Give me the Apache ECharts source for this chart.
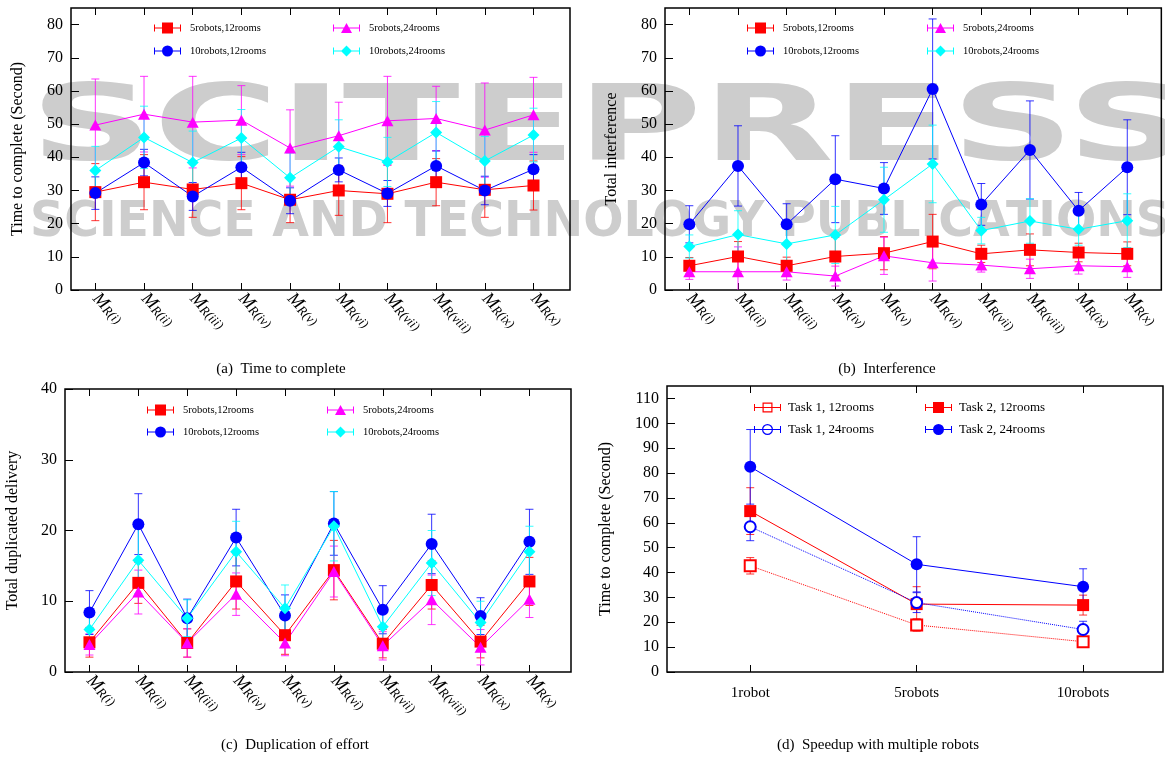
<!DOCTYPE html>
<html>
<head>
<meta charset="utf-8">
<script src="https://cdn.jsdelivr.net/npm/echarts@6/dist/echarts.min.js"></script>
<style>
  html, body { margin: 0; background: #fff; }
  #chart { width: 1165px; height: 764px; }
</style>
</head>
<body>
<div id="chart"></div>
<script>
// ---- data ----
const xIdx = [1, 2, 3, 4, 5, 6, 7, 8, 9, 10];
const romans = ['i', 'ii', 'iii', 'iv', 'v', 'vi', 'vii', 'viii', 'ix', 'x'];
const robotLabels = ['1robot', '5robots', '10robots'];
const robotIdx = [1, 2, 3];
const yTicksTime = [0, 10, 20, 30, 40, 50, 60, 70, 80];
const yTicksDup = [0, 10, 20, 30, 40];
const yTicksSpeed = [0, 10, 20, 30, 40, 50, 60, 70, 80, 90, 100, 110];

// (a) time to complete
const timeR5Rm12 = [29.5, 32.5, 30.3, 32.2, 27.2, 30.0, 29.0, 32.5, 30.2, 31.5];
const timeR5Rm12Err = [8.6, 8.3, 8.4, 8.0, 6.9, 7.5, 8.7, 7.1, 8.3, 7.4];
const timeR5Rm24 = [49.7, 53.0, 50.6, 51.2, 42.8, 46.5, 51.0, 51.7, 48.2, 52.8];
const timeR5Rm24Err = [13.9, 11.4, 13.8, 10.4, 11.5, 10.1, 13.4, 9.7, 14.2, 11.3];
const timeR10Rm12 = [29.2, 38.4, 28.2, 37.0, 26.9, 36.2, 29.1, 37.4, 30.0, 36.4];
const timeR10Rm12Err = [4.9, 4.0, 4.2, 4.5, 3.9, 3.6, 3.9, 4.5, 4.3, 4.4];
const timeR10Rm24 = [36.0, 46.0, 38.4, 45.8, 33.8, 43.2, 38.6, 47.5, 38.9, 46.7];
const timeR10Rm24Err = [7.3, 9.4, 9.5, 8.6, 7.5, 8.1, 7.4, 9.3, 7.4, 8.1];

// (b) interference
const intfR5Rm12 = [7.3, 10.1, 7.3, 10.1, 11.1, 14.6, 10.9, 12.1, 11.3, 10.9];
const intfR5Rm12Err = [2.5, 4.5, 2.6, 5.8, 5.0, 8.2, 2.6, 4.8, 2.8, 3.6];
const intfR5Rm24 = [5.5, 5.5, 5.5, 4.2, 10.3, 8.2, 7.5, 6.4, 7.3, 7.0];
const intfR5Rm24Err = [2.3, 7.5, 2.5, 3.0, 5.6, 5.5, 2.1, 2.9, 2.5, 3.2];
const intfR10Rm12 = [19.8, 37.4, 19.8, 33.4, 30.6, 60.6, 25.8, 42.2, 23.9, 37.0];
const intfR10Rm12Err = [5.6, 12.1, 6.2, 13.1, 7.8, 21.1, 6.3, 14.8, 5.5, 14.3];
const intfR10Rm24 = [13.1, 16.7, 13.9, 16.6, 27.2, 38.0, 17.9, 20.8, 18.3, 20.9];
const intfR10Rm24Err = [3.5, 7.2, 5.0, 8.6, 9.8, 11.7, 4.0, 6.7, 4.8, 8.1];

// (c) duplicated delivery
const dupR5Rm12 = [4.2, 12.6, 4.1, 12.8, 5.2, 14.4, 4.0, 12.3, 4.3, 12.8];
const dupR5Rm12Err = [2.1, 2.9, 2.0, 3.9, 2.7, 4.2, 2.0, 3.4, 2.3, 3.4];
const dupR5Rm24 = [3.9, 11.3, 4.1, 11.0, 4.1, 14.2, 3.7, 10.2, 3.5, 10.3];
const dupR5Rm24Err = [1.5, 3.1, 2.0, 3.0, 1.8, 3.6, 2.0, 3.5, 2.5, 2.6];
const dupR10Rm12 = [8.4, 20.9, 7.6, 19.0, 8.0, 21.0, 8.8, 18.1, 7.9, 18.4];
const dupR10Rm12Err = [3.1, 4.3, 2.7, 4.0, 2.9, 4.5, 3.4, 4.2, 2.6, 4.6];
const dupR10Rm24 = [6.0, 15.8, 7.6, 17.0, 9.0, 20.6, 6.4, 15.4, 7.0, 17.0];
const dupR10Rm24Err = [2.5, 4.7, 2.6, 4.3, 3.3, 4.9, 2.5, 4.6, 3.0, 3.6];

// (d) speedup
const task1Rm12 = [42.7, 18.9, 12.2];
const task1Rm12Err = [3.3, 2.5, 2.0];
const task1Rm24 = [58.4, 27.9, 17.1];
const task1Rm24Err = [5.6, 4.0, 3.3];
const task2Rm12 = [64.7, 27.3, 26.9];
const task2Rm12Err = [9.4, 7.0, 4.0];
const task2Rm24 = [82.5, 43.3, 34.3];
const task2Rm24Err = [15.0, 11.1, 7.2];

// ---- helpers ----
const SERIF = '"Liberation Serif", "DejaVu Serif", serif';
const RED = '#ff0000', MAGENTA = '#ff00ff', BLUE = '#0000ff', CYAN = '#00ffff';

function errRender(params, api) {
  const x = api.value(0);
  const lo = api.coord([x, api.value(1)]);
  const hi = api.coord([x, api.value(2)]);
  const cap = 4;
  const style = { stroke: api.visual('color'), lineWidth: 1, opacity: 0.8 };
  return {
    type: 'group',
    children: [
      { type: 'line', shape: { x1: lo[0], y1: lo[1], x2: hi[0], y2: hi[1] }, style },
      { type: 'line', shape: { x1: lo[0] - cap, y1: lo[1], x2: lo[0] + cap, y2: lo[1] }, style },
      { type: 'line', shape: { x1: hi[0] - cap, y1: hi[1], x2: hi[0] + cap, y2: hi[1] }, style }
    ]
  };
}

function makeSeries(panel, xs, d) {
  const line = {
    type: 'line', name: d.name, xAxisIndex: panel * 2, yAxisIndex: panel,
    data: xs.map((x, i) => [x, d.values[i]]),
    symbol: d.symbol, symbolSize: d.size, showSymbol: true,
    color: d.color,
    lineStyle: { width: 1, type: d.dotted ? 'dotted' : 'solid', color: d.color },
    itemStyle: { color: d.color, borderWidth: d.symbol.startsWith('empty') ? 1.2 : 0 },
    z: 3
  };
  const err = {
    type: 'custom', name: 'err-' + panel + '-' + d.name, xAxisIndex: panel * 2, yAxisIndex: panel,
    data: xs.map((x, i) => [x, d.values[i] - d.errs[i], d.values[i] + d.errs[i]]),
    renderItem: errRender, encode: { x: 0, y: [1, 2] }, clip: true,
    itemStyle: { color: d.color }, z: 2
  };
  return [err, line];
}

// legend icon paths: line with caps plus a marker, in a 27x11 box
const capLine = 'M0,5h27v1H0z M0,2h1v7H0z M26,2h1v7h-1z ';
const icons = {
  rect: capLine + 'M8,0h11v11h-11z',
  circle: capLine + 'M19,5.5A5.5,5.5 0 1,1 8,5.5A5.5,5.5 0 1,1 19,5.5z',
  triangle: capLine + 'M13.5,0.5L19,10.5L8,10.5z',
  diamond: capLine + 'M13.5,0L19,5.5L13.5,11L8,5.5z',
  emptyRect: capLine + 'M8.5,0.5h10v10h-10z M9.7,1.7v7.6h7.6v-7.6z',
  emptyCircle: capLine + 'M19,5.5A5.5,5.5 0 1,1 8,5.5A5.5,5.5 0 1,1 19,5.5z M17.8,5.5A4.3,4.3 0 1,0 9.2,5.5A4.3,4.3 0 1,0 17.8,5.5z'
};

function legendItem(d, left, top, fontSize, gap) {
  return {
    left, top, padding: 0, selectedMode: false,
    itemWidth: 27, itemHeight: 11,
    data: [{ name: d.name, icon: 'path://' + icons[d.symbol], itemStyle: { color: d.color, borderWidth: 0 } }],
    textStyle: { fontFamily: SERIF, fontSize, color: '#000', padding: [0, 0, 0, gap], lineHeight: 12 }
  };
}

const mrLabel = {
  customValues: xIdx, rotate: -45, margin: 6, color: '#000',
  formatter: v => '{m|M}{s|R(' + romans[v - 1] + ')}',
  rich: {
    m: { fontFamily: SERIF, fontStyle: 'italic', fontSize: 18, lineHeight: 18, verticalAlign: 'top', color: '#000' },
    s: { fontFamily: SERIF, fontStyle: 'italic', fontSize: 13, lineHeight: 13, verticalAlign: 'bottom', padding: [9, 0, 0, 0], color: '#000' }
  }
};

function xAxes(g, max, ticks, label) {
  const common = {
    gridIndex: g, type: 'value', min: 0.5, max,
    axisLine: { show: false }, splitLine: { show: false },
    axisTick: { inside: true, length: 7, customValues: ticks, lineStyle: { color: '#000', width: 1 } }
  };
  return [
    Object.assign({}, common, { position: 'bottom', axisLabel: label }),
    Object.assign({}, common, { position: 'top', axisLabel: { show: false } })
  ];
}

function yAxis(g, max, ticks, name, gap) {
  return {
    gridIndex: g, type: 'value', min: 0, max,
    name, nameLocation: 'middle', nameGap: gap,
    nameTextStyle: { fontFamily: SERIF, fontSize: 16, color: '#000' },
    axisLine: { show: false }, splitLine: { show: false },
    axisTick: { inside: true, length: 8, customValues: ticks, lineStyle: { color: '#000', width: 1 } },
    axisLabel: { customValues: ticks, color: '#000', fontFamily: SERIF, fontSize: 16, margin: 8 }
  };
}

const gridBox = { show: true, borderColor: '#000', borderWidth: 1.5, backgroundColor: 'transparent' };

// ---- series definitions per panel ----
const sA = [
  { name: '5robots,12rooms', values: timeR5Rm12, errs: timeR5Rm12Err, color: RED, symbol: 'rect', size: 12 },
  { name: '5robots,24rooms', values: timeR5Rm24, errs: timeR5Rm24Err, color: MAGENTA, symbol: 'triangle', size: [12, 11] },
  { name: '10robots,12rooms', values: timeR10Rm12, errs: timeR10Rm12Err, color: BLUE, symbol: 'circle', size: 12 },
  { name: '10robots,24rooms', values: timeR10Rm24, errs: timeR10Rm24Err, color: CYAN, symbol: 'diamond', size: 12 }
];
const sB = [
  { name: '5robots,12rooms', values: intfR5Rm12, errs: intfR5Rm12Err, color: RED, symbol: 'rect', size: 12 },
  { name: '5robots,24rooms', values: intfR5Rm24, errs: intfR5Rm24Err, color: MAGENTA, symbol: 'triangle', size: [12, 11] },
  { name: '10robots,12rooms', values: intfR10Rm12, errs: intfR10Rm12Err, color: BLUE, symbol: 'circle', size: 12 },
  { name: '10robots,24rooms', values: intfR10Rm24, errs: intfR10Rm24Err, color: CYAN, symbol: 'diamond', size: 12 }
];
const sC = [
  { name: '5robots,12rooms', values: dupR5Rm12, errs: dupR5Rm12Err, color: RED, symbol: 'rect', size: 12 },
  { name: '5robots,24rooms', values: dupR5Rm24, errs: dupR5Rm24Err, color: MAGENTA, symbol: 'triangle', size: [12, 11] },
  { name: '10robots,12rooms', values: dupR10Rm12, errs: dupR10Rm12Err, color: BLUE, symbol: 'circle', size: 12 },
  { name: '10robots,24rooms', values: dupR10Rm24, errs: dupR10Rm24Err, color: CYAN, symbol: 'diamond', size: 12 }
];
const sD = [
  { name: 'Task 1, 12rooms', values: task1Rm12, errs: task1Rm12Err, color: RED, symbol: 'emptyRect', size: 11, dotted: true },
  { name: 'Task 2, 12rooms', values: task2Rm12, errs: task2Rm12Err, color: RED, symbol: 'rect', size: 12 },
  { name: 'Task 1, 24rooms', values: task1Rm24, errs: task1Rm24Err, color: BLUE, symbol: 'emptyCircle', size: 11, dotted: true },
  { name: 'Task 2, 24rooms', values: task2Rm24, errs: task2Rm24Err, color: BLUE, symbol: 'circle', size: 12 }
];

let series = [];
sA.forEach(d => { series = series.concat(makeSeries(0, xIdx, d)); });
sB.forEach(d => { series = series.concat(makeSeries(1, xIdx, d)); });
sC.forEach(d => { series = series.concat(makeSeries(2, xIdx, d)); });
sD.forEach(d => { series = series.concat(makeSeries(3, robotIdx, d)); });

const legends = [
  legendItem(sA[0], 154, 22, 10.5, 4), legendItem(sA[1], 333, 22, 10.5, 4),
  legendItem(sA[2], 154, 45, 10.5, 4), legendItem(sA[3], 333, 45, 10.5, 4),
  legendItem(sB[0], 747, 22, 10.5, 4), legendItem(sB[1], 927, 22, 10.5, 4),
  legendItem(sB[2], 747, 45, 10.5, 4), legendItem(sB[3], 927, 45, 10.5, 4),
  legendItem(sC[0], 147, 404, 10.5, 4), legendItem(sC[1], 327, 404, 10.5, 4),
  legendItem(sC[2], 147, 426, 10.5, 4), legendItem(sC[3], 327, 426, 10.5, 4),
  legendItem(sD[0], 754, 401, 13, 2), legendItem(sD[1], 925, 401, 13, 2),
  legendItem(sD[2], 754, 423, 13, 2), legendItem(sD[3], 925, 423, 13, 2)
];

// watermark text, stretched to its width in the reference
const measure = document.createElement('canvas').getContext('2d');
function stretch(text, font, width) {
  measure.font = font;
  return width / measure.measureText(text).width;
}
const wmFont1 = 'bold 106px "DejaVu Sans"';
const wmFont2 = 'bold 50px "DejaVu Sans"';
const wmText1 = 'SCITEPRESS';
const wmText2 = 'SCIENCE AND TECHNOLOGY PUBLICATIONS';

function caption(text, x, y) {
  return {
    type: 'text', x, y, z: 10,
    style: { text, font: '15px ' + SERIF, fill: '#000', textAlign: 'center', textVerticalAlign: 'middle' }
  };
}

const chart = echarts.init(document.getElementById('chart'));
chart.setOption({
  animation: false,
  backgroundColor: '#fff',
  grid: [
    Object.assign({ left: 71, top: 8, width: 499, height: 282 }, gridBox),
    Object.assign({ left: 665, top: 8, width: 498, height: 282 }, gridBox),
    Object.assign({ left: 65, top: 389, width: 506, height: 283 }, gridBox),
    Object.assign({ left: 667, top: 386, width: 496, height: 286 }, gridBox)
  ],
  xAxis: [].concat(
    xAxes(0, 10.75, xIdx, mrLabel),
    xAxes(1, 10.7, xIdx, mrLabel),
    xAxes(2, 10.85, xIdx, mrLabel),
    xAxes(3, 3.48, robotIdx, {
      customValues: robotIdx, color: '#000', fontFamily: SERIF, fontSize: 15, margin: 14,
      formatter: v => robotLabels[v - 1]
    })
  ),
  yAxis: [
    yAxis(0, 85, yTicksTime, 'Time to complete (Second)', 45),
    yAxis(1, 85, yTicksTime, 'Total interference', 45),
    yAxis(2, 40, yTicksDup, 'Total duplicated delivery', 44),
    yAxis(3, 115, yTicksSpeed, 'Time to complete (Second)', 53)
  ],
  legend: legends,
  series,
  graphic: [
    {
      type: 'text', x: 30, y: 132, z: -5, scaleX: stretch(wmText1, wmFont1, 1160),
      style: { text: wmText1, font: wmFont1, fill: '#cdcdcd', textVerticalAlign: 'middle' }
    },
    {
      type: 'text', x: 30, y: 223, z: -5, scaleX: stretch(wmText2, wmFont2, 1140),
      style: { text: wmText2, font: wmFont2, fill: '#cdcdcd', textVerticalAlign: 'middle' }
    },
    caption('(a)  Time to complete', 281, 369),
    caption('(b)  Interference', 887, 369),
    caption('(c)  Duplication of effort', 295, 745),
    caption('(d)  Speedup with multiple robots', 878, 745)
  ]
});
</script>
</body>
</html>
